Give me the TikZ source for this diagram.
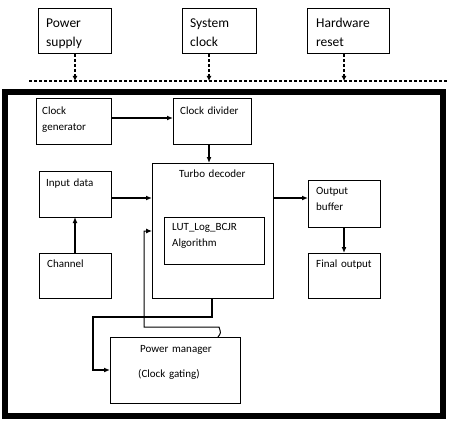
\documentclass[tikz,border=0pt]{standalone}
\usepackage{fontspec}
\setmainfont{Carlito}
\usetikzlibrary{arrows.meta}
\begin{document}
\begin{tikzpicture}[x=1pt,y=1pt,
  box/.style={draw=black,line width=1pt,inner sep=0,outer sep=0,anchor=north west},
  bigtxt/.style={anchor=base west,inner sep=0,text width=80pt,align=left,font=\fontsize{13.5}{19}\selectfont},
  smtxt/.style={anchor=base west,inner sep=0,text width=100pt,align=left,font=\fontsize{11}{15.5}\selectfont},
  conn/.style={line width=1.5pt,-{Latex[length=6pt,width=5pt]}},
  thick conn/.style={line width=2.2pt,-{Latex[length=6pt,width=5pt]}},
  thin conn/.style={line width=1pt,-{Latex[length=6pt,width=5pt]}},
  dconn/.style={line width=1.3pt,dash pattern=on 3pt off 2pt,-{Latex[length=5pt,width=5pt]}}]
\useasboundingbox (0,0) rectangle (449,-425);
% top boxes
\node[box,minimum width=73,minimum height=45] (ps) at (38,-9) {};
\node[box,minimum width=74,minimum height=45] (sc) at (182,-9) {};
\node[box,minimum width=82,minimum height=45] (hr) at (307,-9) {};
\node[bigtxt] (pst) at (46,-28) {Power\\supply};
\node[bigtxt] (sct) at (190,-28) {System\\clock};
\node[bigtxt] (hrt) at (316,-28) {Hardware\\reset};
% dashed bus
\coordinate (busl) at (29,-81);
\coordinate (busr) at (449,-81);
\draw[line width=1.3pt,dash pattern=on 3pt off 2pt] (busl) -- (busr);
\coordinate (b1) at (75,-81);
\coordinate (b2) at (209,-81);
\coordinate (b3) at (344,-81);
\draw[dconn] (ps.south -| b1) -- (b1);
\draw[dconn] (sc.south -| b2) -- (b2);
\draw[dconn] (hr.south -| b3) -- (b3);
% big frame
\draw[line width=6pt] (4.5,-92.5) rectangle (442.5,-416);
% inner boxes
\node[box,minimum width=75,minimum height=45] (cg) at (36,-99) {};
\node[box,minimum width=78,minimum height=45] (cd) at (173,-99) {};
\node[box,minimum width=121,minimum height=135] (td) at (152,-163) {};
\node[box,minimum width=72,minimum height=46] (id) at (39,-171) {};
\node[box,minimum width=100,minimum height=47] (lut) at (164,-217) {};
\node[box,minimum width=72,minimum height=47] (ob) at (308,-180) {};
\node[box,minimum width=72,minimum height=45] (fo) at (308,-253) {};
\node[box,minimum width=72,minimum height=45] (ch) at (39,-253) {};
\node[box,minimum width=130,minimum height=66] (pm) at (110,-337) {};
% texts
\node[smtxt] (cgt) at (42,-114.5) {Clock\\generator};
\node[smtxt] (cdt) at (180,-114.5) {Clock divider};
\node[smtxt] (tdt) at (179,-177.5) {Turbo decoder};
\node[smtxt] (idt) at (46,-186) {Input data};
\node[smtxt,font=\fontsize{11}{16.5}\selectfont] (lutt) at (172,-230) {LUT\_Log\_BCJR\\Algorithm};
\node[smtxt] (obt) at (316,-194.5) {Output\\buffer};
\node[smtxt] (cht) at (47,-267.5) {Channel};
\node[smtxt] (fot) at (316,-267.5) {Final output};
\node[smtxt] (pmt) at (140,-352) {Power manager};
\node[smtxt] (pmt2) at (138,-377.5) {(Clock gating)};
% connectors
\draw[conn] ([yshift=3.5pt]cg.east) -- ([yshift=3.5pt]cd.west);
\draw[conn] ([xshift=-3pt]cd.south) -- ([xshift=-3pt]cd.south |- td.north);
\draw[conn] ([yshift=-4pt]id.east) -- ([yshift=-4pt]id.east -| td.west);
\draw[conn] ([yshift=5.5pt]ob.west -| td.east) -- ([yshift=5.5pt]ob.west);
\draw[conn] (ob.south) -- (fo.north);
\draw[conn] (ch.north) -- (id.south);
\coordinate (tdo) at (212,-298);
\coordinate (pmin) at (110,-370);
\draw[thick conn] (tdo) -- (212,-317) -- (93,-317) -- (93,-370) -- (pmin);
\coordinate (pmo) at (218,-337);
\coordinate (tdin) at (152,-231);
\draw[thin conn] (pmo) .. controls (221,-333) .. (219,-327) -- (144,-327) -- (144,-231) -- (tdin);
\end{tikzpicture}
\end{document}
